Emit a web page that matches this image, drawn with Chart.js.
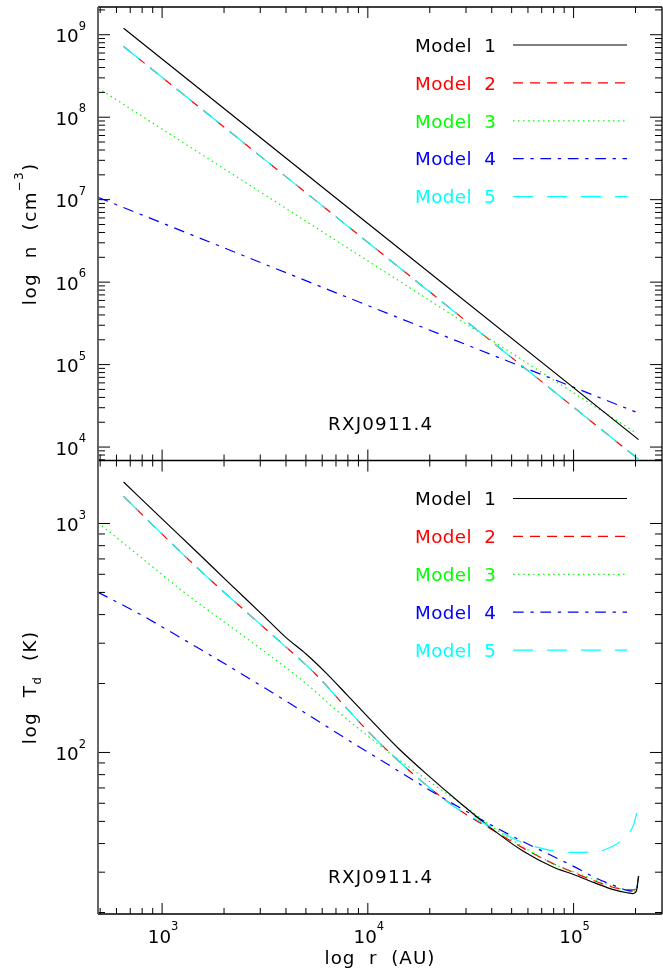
<!DOCTYPE html>
<html>
<head>
<meta charset="utf-8">
<script src="https://cdn.jsdelivr.net/npm/chart.js@4.4.1/dist/chart.umd.min.js"></script>
<style>
  html, body { margin: 0; padding: 0; background: #fff; }
</style>
</head>
<body>
<canvas id="models" width="663" height="976"></canvas>
<script>
// top panel: density n (cm^-3) against radius r (AU)
const rN1 = [650, 10000, 207000];
const n1 = [1.2e9, 5.15e6, 1.23e4];
const rN2 = [650, 10000, 207000];
const n2 = [7.2e8, 3.04e6, 7.1e3];
const rN3 = [488, 10000, 200000];
const n3 = [2.26e8, 1.81e6, 1.5e4];
const rN4 = [488, 10000, 200000];
const n4 = [1.07e7, 5.2e5, 2.67e4];
const rN5 = [650, 10000, 207000];
const n5 = [7.2e8, 3.04e6, 7.1e3];

// bottom panel: dust temperature Td (K) against radius r (AU)
const rT1 = [650, 1000, 1450, 2100, 3050, 3980, 5010, 6310, 7940, 10000, 14100, 20000, 28200, 39800, 56200, 79400, 100000, 126000, 158000, 182000, 195000, 202000, 207000];
const t1 = [1517, 1047, 762, 553, 402, 319, 269, 221, 178, 143, 104, 78.2, 60.0, 46.6, 37.3, 31.6, 29.3, 27.0, 25.1, 24.4, 24.2, 24.8, 28.8];
const rT2 = [650, 1000, 1580, 2510, 3980, 5620, 7940, 10000, 14100, 20000, 28200, 39800, 56200, 79400, 100000, 126000, 158000, 182000, 195000, 202000, 207000];
const t2 = [1312, 898, 607, 418, 290, 218, 155, 124, 91.8, 70.0, 55.6, 46.2, 38.5, 32.7, 29.9, 27.5, 25.7, 25.1, 25.1, 25.7, 28.8];
const rT3 = [488, 794, 1260, 2000, 3160, 5010, 7080, 10000, 14100, 20000, 28200, 39800, 56200, 79400, 100000, 126000, 158000, 182000, 195000, 202000, 207000];
const t3 = [1009, 708, 506, 372, 275, 200, 152, 118, 93.3, 74.5, 60.0, 47.6, 38.9, 32.7, 30.1, 27.9, 25.9, 25.0, 24.8, 25.1, 28.8];
const rT4 = [488, 794, 1260, 2000, 3160, 5010, 7940, 12600, 20000, 31600, 50100, 79400, 100000, 126000, 158000, 182000, 195000, 202000, 207000];
const t4 = [501, 398, 313, 245, 191, 148, 114, 88.3, 68.4, 54.0, 43.2, 35.2, 31.8, 28.5, 26.2, 25.0, 24.8, 25.1, 28.8];
const rT5 = [650, 1000, 1580, 2510, 3980, 5620, 7940, 10000, 14100, 20000, 28200, 39800, 56200, 79400, 100000, 126000, 158000, 182000, 195000, 202000, 207000];
const t5 = [1312, 898, 607, 418, 290, 218, 155, 124, 91.8, 70.0, 55.6, 47.3, 40.5, 37.2, 36.6, 36.8, 39.3, 43.7, 47.9, 53.7, 59.6];

// axis ranges and decade tick labels (10^exp)
const rRange = [488, 2.69e5];
const nRange = [6870, 2.17e9];
const tRange = [19.7, 1884];
const rTickExp = [3, 4, 5];
const nTickExp = [4, 5, 6, 7, 8, 9];
const tTickExp = [2, 3];

const modelNames = ['Model 1', 'Model 2', 'Model 3', 'Model 4', 'Model 5'];
const sourceName = 'RXJ0911.4';

const FONT = '"DejaVu Sans", sans-serif';
const FS = 18.3;

const styles = [
  { color: '#000000', dash: [], order: 1 },
  { color: '#ff0000', dash: [10, 7], order: 4 },
  { color: '#00ff00', dash: [1.5, 3.5], order: 3 },
  { color: '#0000ff', dash: [10.7, 6.7, 3.3, 6.7], order: 2 },
  { color: '#00ffff', dash: [20, 14], order: 0 },
];

function pts(xs, ys) {
  return xs.map((x, i) => ({ x: x, y: ys[i] }));
}

const nSets = [[rN1, n1], [rN2, n2], [rN3, n3], [rN4, n4], [rN5, n5]];
const tSets = [[rT1, t1], [rT2, t2], [rT3, t3], [rT4, t4], [rT5, t5]];

const datasets = [];
nSets.forEach((s, i) => {
  datasets.push({
    label: modelNames[i], panel: 'yN', yAxisID: 'yN', xAxisID: 'x',
    data: pts(s[0], s[1]), borderColor: styles[i].color, borderDash: styles[i].dash,
    order: styles[i].order, borderWidth: 1.2, pointRadius: 0, fill: false
  });
});
tSets.forEach((s, i) => {
  datasets.push({
    label: modelNames[i], panel: 'yT', yAxisID: 'yT', xAxisID: 'x',
    data: pts(s[0], s[1]), borderColor: styles[i].color, borderDash: styles[i].dash,
    order: styles[i].order, borderWidth: 1.2, pointRadius: 0, fill: false,
    cubicInterpolationMode: 'monotone'
  });
});

function decadeTicks(exps, range) {
  return function (scale) {
    scale.ticks = exps.map(e => ({ value: Math.pow(10, e), exp: e }));
    scale.min = range[0];
    scale.max = range[1];
  };
}

// text with super/subscripts: parts = [[text, shift]], shift 1 = sup, -1 = sub
function drawRich(ctx, parts, x, y, align, spacing) {
  const small = FS * 0.63;
  ctx.letterSpacing = (spacing || 0) + 'px';
  let w = 0;
  parts.forEach(([t, s]) => {
    ctx.font = (s ? small : FS) + 'px ' + FONT;
    w += ctx.measureText(t).width;
  });
  let cx = align === 'center' ? x - w / 2 : align === 'right' ? x - w : x;
  ctx.textAlign = 'left';
  ctx.textBaseline = 'alphabetic';
  parts.forEach(([t, s]) => {
    ctx.font = (s ? small : FS) + 'px ' + FONT;
    const dy = s === 1 ? -FS * 0.69 : s === -1 ? FS * 0.3 : 0;
    ctx.fillText(t, cx, y + dy);
    cx += ctx.measureText(t).width;
  });
  ctx.letterSpacing = '0px';
}

function logMarks(min, max) {
  const out = [];
  for (let e = Math.floor(Math.log10(min)); e <= Math.ceil(Math.log10(max)); e++) {
    for (let m = 1; m <= 9; m++) {
      const v = m * Math.pow(10, e);
      if (v >= min && v <= max) out.push({ v: v, major: m === 1 });
    }
  }
  return out;
}

const framePlugin = {
  id: 'frame',
  afterDraw(chart) {
    const ctx = chart.ctx;
    const x = chart.scales.x;
    const panels = [chart.scales.yN, chart.scales.yT];
    ctx.save();
    ctx.strokeStyle = '#000';
    ctx.lineWidth = 1;

    // inward tick marks on all sides of both panels
    const xm = logMarks(x.min, x.max);
    panels.forEach(p => {
      ctx.beginPath();
      xm.forEach(m => {
        const px = x.getPixelForValue(m.v);
        const len = m.major ? 11 : 6;
        ctx.moveTo(px, p.top); ctx.lineTo(px, p.top + len);
        ctx.moveTo(px, p.bottom); ctx.lineTo(px, p.bottom - len);
      });
      logMarks(p.min, p.max).forEach(m => {
        const py = p.getPixelForValue(m.v);
        const len = m.major ? 12 : 7;
        ctx.moveTo(x.left, py); ctx.lineTo(x.left + len, py);
        ctx.moveTo(x.right, py); ctx.lineTo(x.right - len, py);
      });
      ctx.stroke();
    });

    // frame
    ctx.lineWidth = 1.3;
    ctx.beginPath();
    ctx.moveTo(x.left, panels[0].top); ctx.lineTo(x.right, panels[0].top);
    ctx.moveTo(x.left, panels[0].bottom); ctx.lineTo(x.right, panels[0].bottom);
    ctx.moveTo(x.left, panels[1].bottom); ctx.lineTo(x.right, panels[1].bottom);
    ctx.moveTo(x.right, panels[0].top); ctx.lineTo(x.right, panels[1].bottom);
    ctx.stroke();
    ctx.strokeStyle = '#555';
    ctx.lineWidth = 1.8;
    ctx.beginPath();
    ctx.moveTo(x.left, panels[0].top); ctx.lineTo(x.left, panels[1].bottom);
    ctx.stroke();

    // tick labels
    ctx.fillStyle = '#000';
    x.ticks.forEach(t => {
      drawRich(ctx, [['10', 0], [String(t.exp), 1]], x.getPixelForValue(t.value) + 1, panels[1].bottom + 29, 'center');
    });
    panels.forEach(p => {
      p.ticks.forEach(t => {
        drawRich(ctx, [['10', 0], [String(t.exp), 1]], 86, p.getPixelForValue(t.value) + 7.7, 'right');
      });
    });

    // axis titles
    drawRich(ctx, [['log  r  (AU)', 0]], (x.left + x.right) / 2, 964, 'center', 1);
    [[panels[0], [['log  n  (cm', 0], ['\u22123', 1], [')', 0]]],
     [panels[1], [['log  T', 0], ['d', -1], ['  (K)', 0]]]].forEach(([p, parts]) => {
      ctx.save();
      ctx.translate(36, (p.top + p.bottom) / 2);
      ctx.rotate(-Math.PI / 2);
      drawRich(ctx, parts, 0, 0, 'center', 1.5);
      ctx.restore();
    });

    // source label and legend in each panel
    panels.forEach(p => {
      ctx.fillStyle = '#000';
      drawRich(ctx, [[sourceName, 0]], 328, p.bottom - 30.7, 'left', 1.2);
      const sets = chart.data.datasets.filter(d => d.panel === p.id);
      sets.forEach((d, i) => {
        const ly = p.top + 38 + 37.9 * i;
        ctx.fillStyle = d.borderColor;
        drawRich(ctx, [[d.label.replace(' ', '  '), 0]], 415, ly + 6.7, 'left', 0.4);
        ctx.strokeStyle = d.borderColor;
        ctx.lineWidth = 1.2;
        ctx.setLineDash(d.borderDash);
        ctx.beginPath();
        ctx.moveTo(513, ly);
        ctx.lineTo(627, ly);
        ctx.stroke();
        ctx.setLineDash([]);
      });
    });
    ctx.restore();
  }
};

const hidden = { display: false };

new Chart(document.getElementById('models').getContext('2d'), {
  type: 'line',
  data: { datasets: datasets },
  options: {
    responsive: false,
    animation: false,
    layout: { padding: { top: 7, right: 1, left: 0, bottom: 0 } },
    plugins: { legend: hidden, tooltip: { enabled: false } },
    scales: {
      x: {
        type: 'logarithmic', position: 'bottom', min: rRange[0], max: rRange[1],
        grid: hidden, border: hidden, ticks: hidden,
        afterBuildTicks: decadeTicks(rTickExp, rRange),
        afterFit: s => { s.height = 62; }
      },
      yT: {
        type: 'logarithmic', position: 'left', stack: 'panels', stackWeight: 1,
        min: tRange[0], max: tRange[1],
        grid: hidden, border: hidden, ticks: hidden,
        afterBuildTicks: decadeTicks(tTickExp, tRange),
        afterFit: s => { s.width = 98; }
      },
      yN: {
        type: 'logarithmic', position: 'left', stack: 'panels', stackWeight: 1,
        min: nRange[0], max: nRange[1],
        grid: hidden, border: hidden, ticks: hidden,
        afterBuildTicks: decadeTicks(nTickExp, nRange),
        afterFit: s => { s.width = 98; }
      }
    }
  },
  plugins: [framePlugin]
});
</script>
</body>
</html>
